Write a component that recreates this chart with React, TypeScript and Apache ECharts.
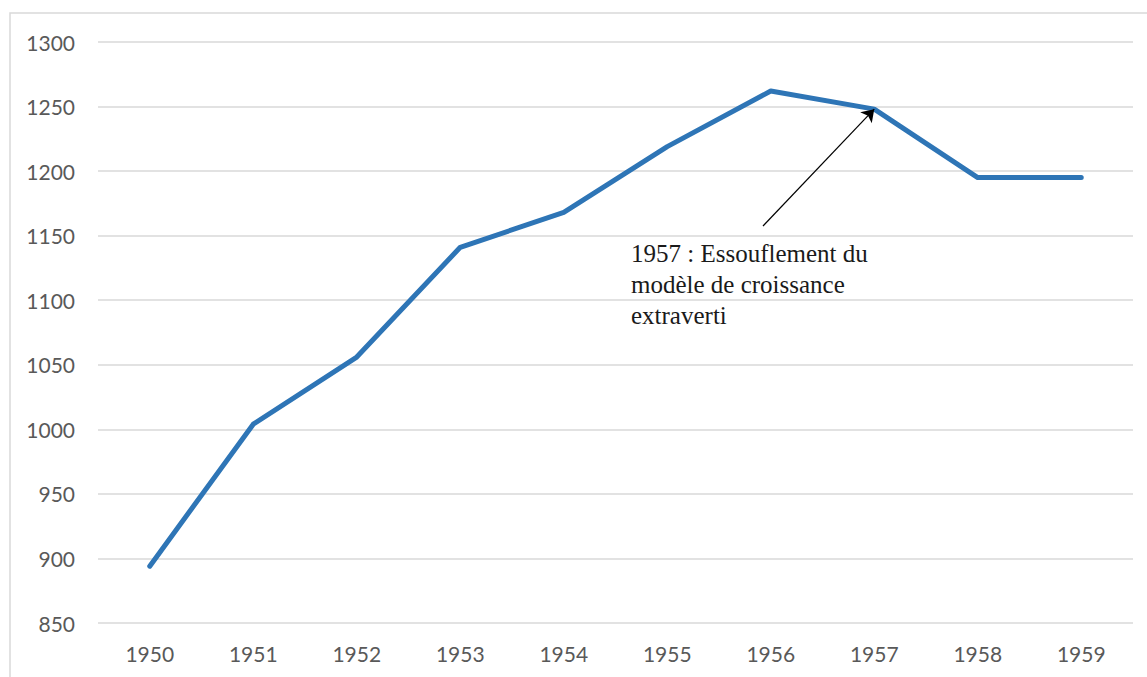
import React, { useEffect, useRef } from "react";
import * as echarts from "echarts";

const years = ["1950", "1951", "1952", "1953", "1954", "1955", "1956", "1957", "1958", "1959"];
const values = [894, 1004, 1056, 1141, 1168, 1219, 1262, 1248, 1195, 1195];
const annotationLines = ["1957 : Essouflement du", "modèle de croissance", "extraverti"];
const annotationIndex = 7;

export default function App() {
  const ref = useRef<HTMLDivElement>(null);
  useEffect(() => {
    if (!ref.current) return;
    const chart = echarts.init(ref.current, undefined, { renderer: "svg" });
    chart.setOption({
      animation: false,
      backgroundColor: "#ffffff",
      grid: { left: 98, right: 14, top: 42, bottom: 54 },
      xAxis: {
        type: "category",
        data: years,
        boundaryGap: true,
        axisLine: { show: false },
        axisTick: { show: false },
        axisLabel: { color: "#595959", fontFamily: "Lato", fontSize: 21, margin: 20 },
      },
      yAxis: {
        type: "value",
        min: 850,
        max: 1300,
        interval: 50,
        axisLine: { show: false },
        axisTick: { show: false },
        axisLabel: {
          color: "#595959",
          fontFamily: "Lato",
          fontSize: 21,
          margin: 23,
          formatter: (v: number) => String(v),
        },
        splitLine: { lineStyle: { color: "#d9d9d9", width: 1.5 } },
      },
      graphic: [
        {
          type: "rect",
          shape: { x: 10, y: 13, width: 1300, height: 800 },
          style: { fill: "none", stroke: "#d9d9d9", lineWidth: 1.5 },
          silent: true,
        },
        {
          type: "text",
          x: 631,
          y: 238,
          style: {
            text: annotationLines.join("\n"),
            font: '25px "Liberation Serif"',
            lineHeight: 31,
            fill: "#1a1a1a",
          },
        },
      ],
      series: [
        {
          type: "line",
          data: values,
          symbol: "none",
          lineStyle: { color: "#2e75b6", width: 5, cap: "round", join: "round" },
          markLine: {
            silent: true,
            symbol: ["none", "arrow"],
            symbolSize: 12,
            label: { show: false },
            lineStyle: { color: "#000000", width: 1.2, type: "solid" },
            emphasis: { disabled: true },
            data: [[{ x: 763, y: 226 }, { coord: [annotationIndex, values[annotationIndex]] }]],
          },
        },
      ],
    });
    return () => chart.dispose();
  }, []);
  return <div ref={ref} style={{ position: "fixed", left: 0, top: 0, width: 1147, height: 677 }} />;
}
